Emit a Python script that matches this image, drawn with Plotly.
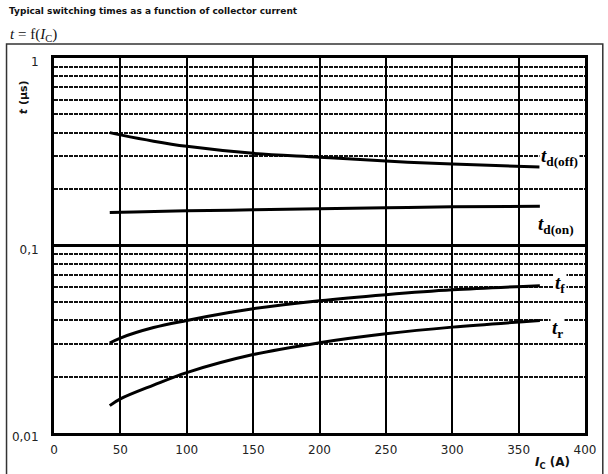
import numpy as np
import plotly.graph_objects as go

# ---- data ----
ic_td_off = [42, 50, 75, 100, 150, 200, 250, 300, 366]
td_off = [0.400, 0.389, 0.360, 0.338, 0.310, 0.296, 0.282, 0.272, 0.262]

ic_td_on = [42, 60, 100, 150, 200, 250, 300, 366]
td_on = [0.150, 0.151, 0.153, 0.155, 0.157, 0.159, 0.161, 0.162]

ic_tf = [42, 50, 75, 100, 133, 150, 200, 250, 300, 366]
tf = [0.0302, 0.0321, 0.0365, 0.0398, 0.0440, 0.0460, 0.0507, 0.0546, 0.0580, 0.0610]

ic_tr = [42, 50, 75, 100, 150, 200, 250, 300, 366]
tr = [0.0140, 0.0152, 0.0180, 0.0210, 0.0262, 0.0303, 0.0338, 0.0367, 0.0398]

x_ticks = [0, 50, 100, 150, 200, 250, 300, 350, 400]
y_major = [0.01, 0.1, 1]
y_major_text = ["0,01", "0,1", "1"]
y_minor = [m * d for d in (0.01, 0.1) for m in range(2, 10)]

label_text = ["<b><i>t</i><sub>d(off)</sub></b>", "<b><i>t</i><sub>d(on)</sub></b>",
              "<b><i>t</i><sub>f</sub></b>", "<b><i>t</i><sub>r</sub></b>"]
label_x = [381, 378, 381, 379]
label_y = [0.297, 0.129, 0.0625, 0.036]

fig = go.Figure()
for xs, ys in [(ic_td_off, td_off), (ic_td_on, td_on), (ic_tf, tf), (ic_tr, tr)]:
    fig.add_trace(go.Scatter(x=xs, y=ys, mode="lines",
                             line=dict(color="black", width=3, shape="spline"),
                             showlegend=False, hoverinfo="skip"))

for t, x, y in zip(label_text, label_x, label_y):
    fig.add_annotation(x=x, y=np.log10(y), xref="x", yref="y", text=t, showarrow=False,
                       xanchor="center", yanchor="middle",
                       font=dict(family="Liberation Serif", size=19, color="black"),
                       bgcolor="white", borderpad=1)

fig.update_layout(
    width=608, height=474,
    margin=dict(l=51, r=20, t=58, b=41),
    paper_bgcolor="white", plot_bgcolor="white",
    font=dict(family="DejaVu Sans", size=12, color="#222"),
    xaxis=dict(range=[0, 400], tickvals=x_ticks, showgrid=True, gridcolor="black",
               gridwidth=2, zeroline=False, showline=True, linecolor="black",
               linewidth=3, mirror=True, ticks="", tickfont=dict(size=12, color="#222"),
               ticklabelstandoff=4),
    yaxis=dict(type="log", range=[-2, 0], tickvals=y_major, ticktext=y_major_text,
               showgrid=True, gridcolor="black", gridwidth=2.5, zeroline=False,
               showline=True, linecolor="black", linewidth=3, mirror=True, ticks="",
               tickfont=dict(size=12, color="#222"), ticklabelstandoff=10,
               ticklabelshift=4,
               minor=dict(tickmode="array", tickvals=y_minor, showgrid=True,
                          gridcolor="#111", gridwidth=2, griddash="4px,1px", ticks="")),
)

# header texts
fig.add_annotation(xref="paper", yref="paper", x=-0.088, y=1.125, xanchor="left", yanchor="middle",
                   text="<b>Typical switching times as a function of collector current</b>",
                   showarrow=False, font=dict(family="DejaVu Sans", size=9, color="#111"))
fig.add_annotation(xref="paper", yref="paper", x=-0.086, y=1.06, xanchor="left", yanchor="middle",
                   text="<i>t</i> = f(<i>I</i><sub>C</sub>)", showarrow=False,
                   font=dict(family="Liberation Serif", size=15, color="#111"))
# axis titles
fig.add_annotation(xref="paper", yref="paper", x=-0.058, y=0.896, textangle=-90,
                   xanchor="center", yanchor="middle",
                   text="<b><i>t</i> (µs)</b>", showarrow=False,
                   font=dict(family="DejaVu Sans", size=11, color="#111"))
fig.add_annotation(xref="paper", yref="paper", x=0.9385, y=-0.08,
                   xanchor="center", yanchor="middle",
                   text="<b><i>I</i><sub>C</sub> (A)</b>", showarrow=False,
                   font=dict(family="DejaVu Sans", size=12, color="#111"))

# outer frame
fig.add_shape(type="rect", xref="paper", yref="paper", x0=-0.0894, x1=1.0335, y0=-0.2, y1=1.0373,
              line=dict(color="#333", width=1.5), layer="above")

fig.write_html("out.html", config={"displayModeBar": False},
               post_script="document.body.style.margin='0';document.body.style.overflow='hidden';")
